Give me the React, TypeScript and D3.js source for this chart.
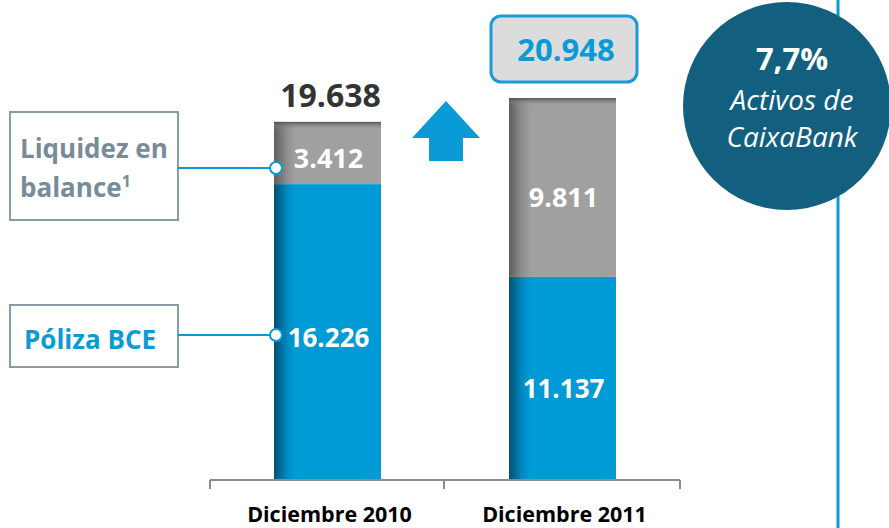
import React from "react";
import * as d3 from "d3";

const categories = ["Diciembre 2010", "Diciembre 2011"];
const polizaBCE = [16226, 11137];
const liquidezBalance = [3412, 9811];
const totals = ["19.638", "20.948"];
const segLabelsBlue = ["16.226", "11.137"];
const segLabelsGray = ["3.412", "9.811"];

const W = 889;
const H = 528;
const FONT = "'Open Sans', sans-serif";

export default function App() {
  const x = d3.scaleBand<string>().domain(categories).range([210, 680]).paddingInner(0).paddingOuter(0);
  const y = d3.scaleLinear().domain([0, 20948]).range([480, 98]);
  const bw = 107;
  const stack = d3.stack<any>().keys(["blue", "gray"])(
    categories.map((c, i) => ({ cat: c, blue: polizaBCE[i], gray: liquidezBalance[i] }))
  );
  const cx = (c: string) => (x(c) as number) + x.bandwidth() / 2;

  return (
    <svg width={W} height={H} style={{ position: "absolute", left: 0, top: 0, display: "block" }}>
      <defs>
        <linearGradient id="gBlue" x1="0" x2="1" y1="0" y2="0">
          <stop offset="0" stopColor="#03516f" />
          <stop offset="0.12" stopColor="#0089c0" />
          <stop offset="0.2" stopColor="#009ad6" />
          <stop offset="1" stopColor="#009ad6" />
        </linearGradient>
        <linearGradient id="gGray" x1="0" x2="1" y1="0" y2="0">
          <stop offset="0" stopColor="#5e5e5e" />
          <stop offset="0.12" stopColor="#8e8e8e" />
          <stop offset="0.2" stopColor="#a0a0a0" />
          <stop offset="1" stopColor="#a0a0a0" />
        </linearGradient>
        <linearGradient id="gTop" x1="0" x2="0" y1="0" y2="1">
          <stop offset="0" stopColor="#505050" stopOpacity="0.9" />
          <stop offset="1" stopColor="#a0a0a0" stopOpacity="0" />
        </linearGradient>
      </defs>
      <rect width={W} height={H} fill="#ffffff" />

      {/* vertical separator */}
      <line x1={838} x2={838} y1={0} y2={H} stroke="#0a9ad6" strokeWidth={3} />

      {/* circle */}
      <circle cx={787} cy={106} r={104} fill="#135f80" />
      <text x={792} y={70} textAnchor="middle" fill="#fff" fontFamily={FONT} fontWeight="bold" fontSize={31}>7,7%</text>
      <text x={792} y={110} textAnchor="middle" fill="#fff" fontFamily={FONT} fontStyle="italic" fontSize={28}>Activos de</text>
      <text x={792} y={147} textAnchor="middle" fill="#fff" fontFamily={FONT} fontStyle="italic" fontSize={28}>CaixaBank</text>

      {/* bars */}
      {stack.map((layer) =>
        layer.map((d, i) => {
          const c = categories[i];
          const x0 = cx(c) - bw / 2;
          const top = y(d[1]);
          const h = y(d[0]) - y(d[1]);
          return (
            <g key={layer.key + c}>
              <rect x={x0} y={top} width={bw} height={h} fill={layer.key === "blue" ? "url(#gBlue)" : "url(#gGray)"} />
              {layer.key === "gray" && <rect x={x0} y={top} width={bw} height={8} fill="url(#gTop)" />}
            </g>
          );
        })
      )}

      {/* axis */}
      <line x1={210} x2={680} y1={480} y2={480} stroke="#8c8c8c" strokeWidth={2} />
      {[210, 444, 680].map((t) => (
        <line key={t} x1={t} x2={t} y1={480} y2={489} stroke="#8c8c8c" strokeWidth={2} />
      ))}
      {categories.map((c) => (
        <text key={c} x={cx(c) + 2} y={522} textAnchor="middle" fill="#000" fontFamily={FONT} fontWeight="bold" fontSize={21.5}>{c}</text>
      ))}

      {/* segment labels */}
      {categories.map((c, i) => (
        <g key={"l" + c}>
          <text x={cx(c) + 1} y={i === 0 ? 168 : 207} textAnchor="middle" fill="#fff" fontFamily={FONT} fontWeight="bold" fontSize={27}>{segLabelsGray[i]}</text>
          <text x={cx(c) + 1} y={i === 0 ? 347 : 398} textAnchor="middle" fill="#fff" fontFamily={FONT} fontWeight="bold" fontSize={26}>{segLabelsBlue[i]}</text>
        </g>
      ))}

      {/* totals */}
      <text x={cx(categories[0]) + 3} y={107} textAnchor="middle" fill="#333333" fontFamily={FONT} fontWeight="bold" fontSize={32}>{totals[0]}</text>
      <rect x={491} y={16} width={146} height={66} rx={10} fill="#dcdcdc" stroke="#1a9bd7" strokeWidth={3} />
      <text x={566} y={61} textAnchor="middle" fill="#0a9ad6" fontFamily={FONT} fontWeight="bold" fontSize={31}>{totals[1]}</text>

      {/* arrow */}
      <path d="M446,101 L480,138 L463,138 L463,161 L429,161 L429,138 L412,138 Z" fill="#0a9ad6" />

      {/* legend boxes */}
      <rect x={10} y={112} width={168} height={108} fill="#fff" stroke="#8a9ba7" strokeWidth={2} />
      <text x={20} y={158} fill="#788b98" fontFamily={FONT} fontWeight="bold" fontSize={26}>Liquidez en</text>
      <text x={20} y={197} fill="#788b98" fontFamily={FONT} fontWeight="bold" fontSize={26}>balance<tspan fontSize={16} dy={-10}>1</tspan></text>
      <line x1={178} x2={276} y1={168} y2={168} stroke="#0a9ad6" strokeWidth={2} />
      <circle cx={276} cy={168} r={6} fill="#fff" stroke="#0a9ad6" strokeWidth={2} />

      <rect x={10} y={305} width={168} height={62} fill="#fff" stroke="#8a9ba7" strokeWidth={2} />
      <text x={24} y={349} fill="#0a9ad6" fontFamily={FONT} fontWeight="bold" fontSize={26}>Póliza BCE</text>
      <line x1={178} x2={276} y1={335} y2={335} stroke="#0a9ad6" strokeWidth={2} />
      <circle cx={276} cy={335} r={6} fill="#fff" stroke="#0a9ad6" strokeWidth={2} />
    </svg>
  );
}
